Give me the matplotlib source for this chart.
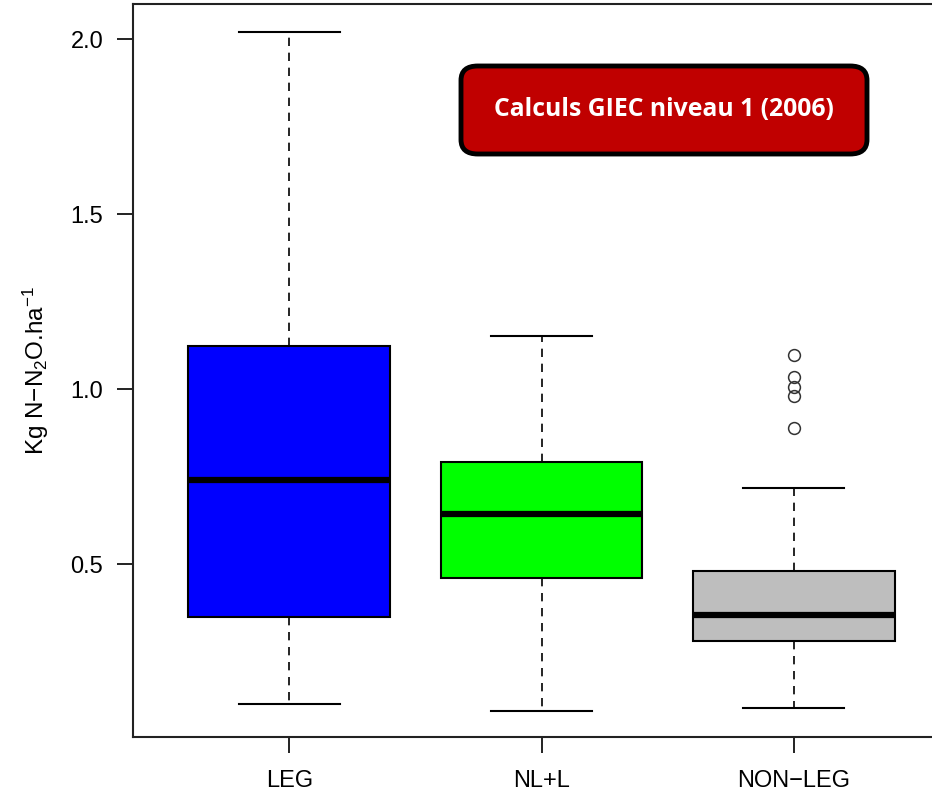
import matplotlib
matplotlib.use("Agg")
import matplotlib.pyplot as plt
from matplotlib.patches import FancyBboxPatch

# Box statistics (kg N-N2O/ha)
groups = ["LEG", "NL+L", "NON\u2212LEG"]
colors = ["#0000FF", "#00FF00", "#BEBEBE"]
q1 = [0.350, 0.461, 0.281]
medians = [0.741, 0.644, 0.356]
q3 = [1.124, 0.793, 0.481]
whis_low = [0.101, 0.081, 0.090]
whis_high = [2.021, 1.153, 0.719]
fliers = [[], [], [1.099, 1.036, 1.007, 0.981, 0.890]]

plt.rcParams["font.family"] = ["Liberation Sans", "DejaVu Sans"]
plt.rcParams["mathtext.default"] = "regular"

W, H = 932, 791
fig = plt.figure(figsize=(W / 100, H / 100), dpi=100)
# R-style plot region; the right edge is cropped in the reference
left, right, top, bottom = 133, 950, 4, 737
ax = fig.add_axes([left / W, 1 - bottom / H, (right - left) / W, (bottom - top) / H])

stats = []
for i, g in enumerate(groups):
    stats.append(dict(label=g, q1=q1[i], med=medians[i], q3=q3[i],
                      whislo=whis_low[i], whishi=whis_high[i], fliers=fliers[i]))

bp = ax.bxp(stats, positions=[1, 2, 3], widths=0.8, patch_artist=True,
            showfliers=True,
            boxprops=dict(edgecolor="black", linewidth=1.5),
            medianprops=dict(color="black", linewidth=4.5, solid_capstyle="butt"),
            whiskerprops=dict(color="black", linewidth=1.2, linestyle=(0, (5, 4))),
            capprops=dict(color="black", linewidth=1.5),
            capwidths=0.4,
            flierprops=dict(marker="o", markersize=8.5, markerfacecolor="none",
                            markeredgecolor="#333333", markeredgewidth=1.1))
for patch, c in zip(bp["boxes"], colors):
    patch.set_facecolor(c)

ax.set_xlim(0.38, 3.62)
ax.set_ylim(0.007, 2.101)
ax.set_yticks([0.5, 1.0, 1.5, 2.0])
ax.set_yticklabels(["0.5", "1.0", "1.5", "2.0"])
ax.set_xticks([1, 2, 3])
ax.set_xticklabels(groups)
ax.tick_params(axis="both", length=11.5, width=1.4, labelsize=17, color="#222222")
ax.tick_params(axis="y", pad=10)
ax.tick_params(axis="x", pad=12)
for s in ax.spines.values():
    s.set_linewidth(1.5)
    s.set_color("#222222")

ax.set_ylabel("Kg N\u2212N$_2$O.ha$^{\u22121}$", fontsize=17.5, labelpad=14)

# Red rounded annotation box overlay
bx0, bx1, by0, by1 = 461, 867, 66, 154
box = FancyBboxPatch((bx0 / W, 1 - by1 / H), (bx1 - bx0) / W, (by1 - by0) / H,
                     boxstyle="round,pad=0,rounding_size=0.018",
                     transform=fig.transFigure, facecolor="#C00000",
                     edgecolor="black", linewidth=3.5, zorder=5)
fig.patches.append(box)
fig.text((bx0 + bx1) / 2 / W, 1 - (by0 + by1) / 2 / H, "Calculs GIEC niveau 1 (2006)",
         color="white", fontsize=17.8, fontweight="bold", family="Open Sans",
         ha="center", va="center", zorder=6)

fig.savefig("out.png", dpi=100)
